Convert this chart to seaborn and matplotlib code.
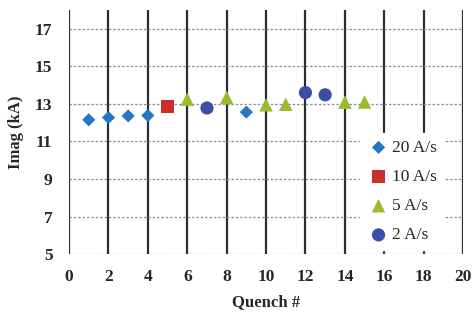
import matplotlib
matplotlib.use("Agg")
import matplotlib.pyplot as plt
import seaborn as sns
import pandas as pd

# Data
q_20 = [1, 2, 3, 4, 9]
i_20 = [12.15, 12.27, 12.36, 12.38, 12.56]
q_10 = [5]
i_10 = [12.86]
q_5 = [6, 8, 10, 11, 14, 15]
i_5 = [13.25, 13.34, 12.95, 12.98, 13.09, 13.10]
q_2 = [7, 12, 13]
i_2 = [12.78, 13.60, 13.48]
series = ["20 A/s", "10 A/s", "5 A/s", "2 A/s"]
x_ticks = list(range(0, 21, 2))
y_ticks = list(range(5, 18, 2))

rows = []
for name, qs, vals in zip(series, [q_20, q_10, q_5, q_2], [i_20, i_10, i_5, i_2]):
    for q, v in zip(qs, vals):
        rows.append({"Quench #": q, "Imag (kA)": v, "Ramp": name})
df = pd.DataFrame(rows)

sns.set_style("white")
plt.rcParams["font.family"] = ["Liberation Serif", "DejaVu Serif"]

fig = plt.figure(figsize=(4.73, 3.22), dpi=100)
ax = fig.add_axes([0.146, 0.211, 0.833, 0.758])

palette = {"20 A/s": "#2677c0", "10 A/s": "#c8302a", "5 A/s": "#9bbb2c", "2 A/s": "#3a4ea6"}
markers = {"20 A/s": "D", "10 A/s": "s", "5 A/s": "^", "2 A/s": "o"}
sizes = {"20 A/s": 45, "10 A/s": 90, "5 A/s": 95, "2 A/s": 90}

for name in series:
    sub = df[df["Ramp"] == name]
    sns.scatterplot(data=sub, x="Quench #", y="Imag (kA)", ax=ax, color=palette[name],
                    marker=markers[name], s=sizes[name], edgecolor="none", label=name, zorder=3)

ax.set_xlim(0, 20)
ax.set_ylim(5, 18)
ax.set_xticks(x_ticks)
ax.set_yticks(y_ticks)
ax.xaxis.grid(True, color="#2a2e33", linewidth=1.6, linestyle="-")
ax.yaxis.grid(True, color="#8a8f96", linewidth=0.9, linestyle=(0, (2, 1.5)))
ax.set_axisbelow(True)
for s in ax.spines.values():
    s.set_visible(False)
ax.tick_params(axis="x", length=5, width=1.6, color="#2a2e33", pad=6, labelsize=12.5)
ax.tick_params(axis="y", length=0, pad=12, labelsize=12.5)
for lab in ax.get_xticklabels() + ax.get_yticklabels():
    lab.set_fontweight("bold")
ax.set_xlabel("Quench #", fontsize=12, fontweight="bold", labelpad=6)
ax.set_ylabel("Imag (kA)", fontsize=12, fontweight="bold", labelpad=8)

leg = ax.legend(loc="lower right", bbox_to_anchor=(0.95, 0.015), frameon=True, fancybox=False,
                edgecolor="white", facecolor="white", framealpha=1, fontsize=12.5,
                handletextpad=0.1, borderpad=0.4, labelspacing=0.75, handlelength=1.3,
                borderaxespad=0.0)
leg.set_zorder(5)

fig.savefig("out.png", dpi=100)
